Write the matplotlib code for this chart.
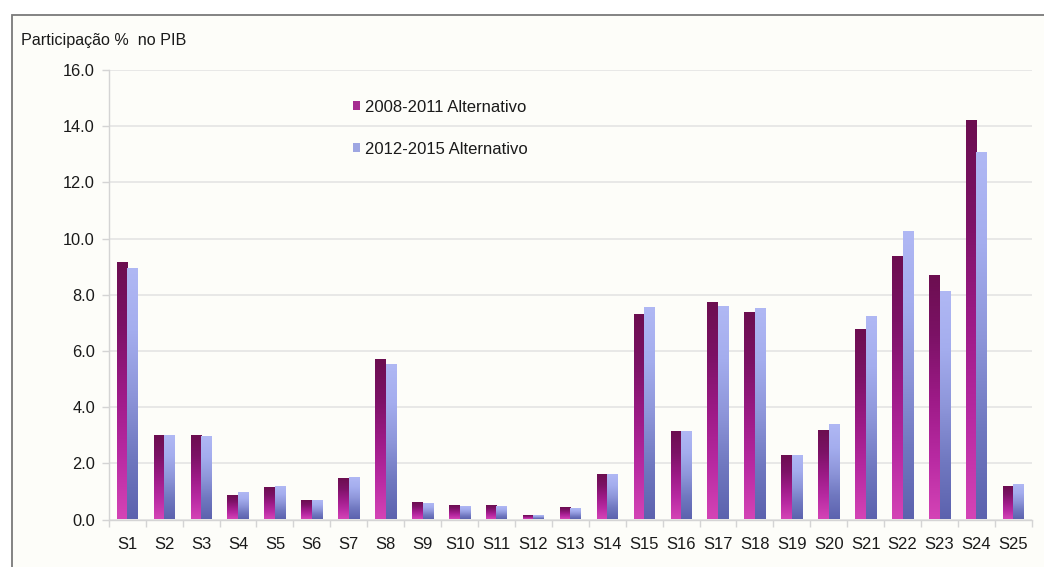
import numpy as np
import matplotlib
matplotlib.use("Agg")
import matplotlib.pyplot as plt
from matplotlib.colors import LinearSegmentedColormap
from matplotlib.patches import Rectangle, Patch

# ---- data -------------------------------------------------------------
categories = ["S1", "S2", "S3", "S4", "S5", "S6", "S7", "S8", "S9", "S10",
              "S11", "S12", "S13", "S14", "S15", "S16", "S17", "S18", "S19",
              "S20", "S21", "S22", "S23", "S24", "S25"]
alt_2008_2011 = [9.13, 2.97, 2.97, 0.84, 1.12, 0.65, 1.45, 5.67, 0.57, 0.49,
                 0.47, 0.14, 0.40, 1.60, 7.29, 3.11, 7.71, 7.35, 2.26, 3.16,
                 6.75, 9.33, 8.65, 14.19, 1.15]
alt_2012_2015 = [8.93, 2.97, 2.92, 0.94, 1.15, 0.65, 1.49, 5.51, 0.55, 0.45,
                 0.45, 0.12, 0.38, 1.60, 7.54, 3.11, 7.58, 7.51, 2.26, 3.36,
                 7.21, 10.22, 8.09, 13.03, 1.24]
series_labels = ["2008-2011 Alternativo", "2012-2015 Alternativo"]
y_ticks = [0, 2, 4, 6, 8, 10, 12, 14, 16]
y_title = "Participação %  no PIB"

# ---- style --------------------------------------------------------------
plt.rcParams["font.family"] = ["Liberation Sans", "DejaVu Sans"]
text_color = "#1a1a1a"
grid_color = "#e2e2e2"
panel_color = "#fdfdf9"

# vertical gradients (bottom -> top)
cmap_a = LinearSegmentedColormap.from_list(
    "magenta", ["#d444b6", "#b82aa2", "#9c1a86", "#7c1266", "#6c0e50"])
cmap_b = LinearSegmentedColormap.from_list(
    "lavender", ["#5c62ae", "#7078c0", "#8e96da", "#a4adee", "#b0b8f4"])

fig = plt.figure(figsize=(10.44, 5.67), dpi=100)
fig.patch.set_facecolor("white")

# chart panel with a thin grey frame on the left and top
fig.patches.append(Rectangle((12 / 1044, -0.05), 1.2, 1 - 14.5 / 567 + 0.05,
                             transform=fig.transFigure, facecolor=panel_color,
                             edgecolor="#7a7a7a", linewidth=1.3, zorder=-1))

ax = fig.add_axes([108.8 / 1044, (567 - 519.5) / 567,
                   (1031.8 - 108.8) / 1044, (519.5 - 70) / 567])
ax.set_facecolor("none")

x = np.arange(len(categories))
w = 0.285
bars_a = ax.bar(x - w / 2, alt_2008_2011, width=w, color="none", zorder=3)
bars_b = ax.bar(x + w / 2, alt_2012_2015, width=w, color="none", zorder=3)

grad = np.linspace(0, 1, 256).reshape(-1, 1)
for bars, cmap in ((bars_a, cmap_a), (bars_b, cmap_b)):
    for b in bars:
        x0, h, bw = b.get_x(), b.get_height(), b.get_width()
        ax.imshow(grad, cmap=cmap, origin="lower", aspect="auto",
                  extent=(x0, x0 + bw, 0, h), zorder=3, interpolation="bilinear")

ax.set_xlim(-0.5, len(categories) - 0.5)
ax.set_ylim(0, 16)
ax.set_yticks(y_ticks)
ax.set_yticklabels([f"{v:.1f}" for v in y_ticks])
ax.set_xticks(x)
ax.set_xticklabels(categories)
ax.set_xticks(np.arange(len(categories) + 1) - 0.5, minor=True)

ax.grid(axis="y", color=grid_color, linewidth=1.1, zorder=0)
ax.set_axisbelow(True)
for s in ("top", "right"):
    ax.spines[s].set_visible(False)
for s in ("left", "bottom"):
    ax.spines[s].set_color("#d4d4d4")
    ax.spines[s].set_linewidth(1.0)

ax.tick_params(axis="y", length=5, width=1.0, color="#d4d4d4", pad=5,
               labelsize=11.8, labelcolor=text_color)
ax.tick_params(axis="x", which="major", length=0, pad=12.5,
               labelsize=12, labelcolor=text_color)
ax.tick_params(axis="x", which="minor", length=5, width=1.0, color="#d4d4d4")

fig.text(21 / 1044, 1 - 40 / 567, y_title, fontsize=11.6, color=text_color,
         ha="left", va="center")

handles = [Patch(facecolor="#a52c90", edgecolor="none"),
           Patch(facecolor="#9ea6e2", edgecolor="none")]
ax.legend(handles, series_labels, loc="upper left",
          bbox_to_anchor=(353 / 1044, 1 - 99.5 / 567),
          bbox_transform=fig.transFigure, frameon=False, fontsize=12,
          handlelength=0.42, handleheight=0.42, handletextpad=0.3,
          labelspacing=1.62, borderpad=0, borderaxespad=0,
          labelcolor=text_color)

fig.savefig("out.png", dpi=100, facecolor=fig.get_facecolor())
